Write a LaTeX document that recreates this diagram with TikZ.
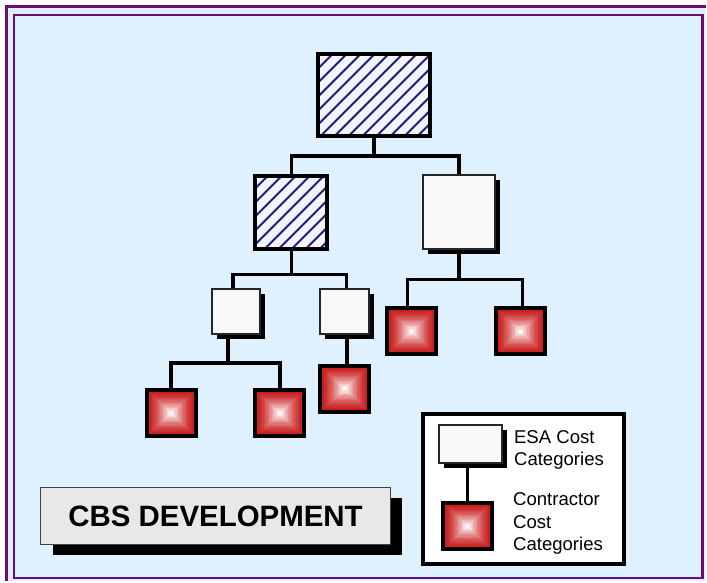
\documentclass[tikz,border=0pt]{standalone}
\usepackage{fontspec}
\setmainfont{Liberation Sans}
\usetikzlibrary{patterns.meta,calc,shadows}
\definecolor{panelblue}{RGB}{223,241,254}
\definecolor{framepurple}{RGB}{110,10,115}
\definecolor{hatchnavy}{RGB}{32,32,120}
\definecolor{hatchbg}{RGB}{244,244,255}
\definecolor{esawhite}{RGB}{248,248,248}
\definecolor{boxred}{RGB}{200,26,26}
\definecolor{bannergray}{RGB}{232,232,232}
\tikzset{
  conn/.style={line width=3.5pt, draw=black},
  esahatch/.style={draw=black, line width=4pt, inner sep=0pt,
    preaction={fill=hatchbg},
    pattern={Lines[angle=45,distance=10.5pt,line width=2.2pt]},
    pattern color=hatchnavy},
  esabox/.style={draw=black!85, line width=2pt, fill=esawhite, inner sep=0pt,
    drop shadow={shadow xshift=5pt, shadow yshift=-5pt, fill=black, opacity=1}},
  ctrbox/.style={draw=black, line width=4pt, inner sep=0pt,
    minimum width=49pt, minimum height=46pt,
    path picture={
      \foreach \k in {0,...,17}{
        \pgfmathsetmacro\h{\k/36}
        \pgfmathsetmacro\m{100*(1-(\k/17)^1.5)}
        \fill[boxred!\m!white]
          ($(path picture bounding box.south west)!\h!(path picture bounding box.north east)$)
          rectangle
          ($(path picture bounding box.north east)!\h!(path picture bounding box.south west)$);
      }
    }},
  legendtext/.style={anchor=west, inner sep=0pt, align=left,
    font=\fontsize{18.6}{22.5}\selectfont},
}
\begin{document}
\begin{tikzpicture}[x=1pt, y=-1pt]
  % page, panel and double frame
  \fill[white] (0,0) rectangle (707,582);
  \fill[panelblue] (7,7) rectangle (707,582);
  \draw[framepurple, line width=3pt] (7,582) -- (7,7) -- (707,7);
  \draw[framepurple, line width=2.5pt] (14,15) rectangle (704,579);
  \useasboundingbox (0,0) rectangle (707,582);

  % ESA cost categories (hatched = upper levels)
  \node[esahatch, minimum width=112pt, minimum height=82pt] (top) at (375,95) {};
  \node[esahatch, minimum width=72pt, minimum height=74pt] (lh) at (292,213) {};
  \node[esabox, minimum width=72pt, minimum height=75pt] (rw) at (460,212.5) {};
  \node[esabox, minimum width=49pt, minimum height=45pt] (w1) at (236.5,312.5) {};
  \node[esabox, minimum width=49pt, minimum height=45pt] (w2) at (345.5,312.5) {};

  % contractor cost categories
  \node[ctrbox] (r1) at (171.5,414) {};
  \node[ctrbox] (r2) at (280.5,414) {};
  \node[ctrbox] (r3) at (345.5,389.5) {};
  \node[ctrbox] (r4) at (412.5,332) {};
  \node[ctrbox] (r5) at (521.5,332) {};

  % tree connectors
  \draw[conn] (top.south) -- ++(0,19) -| (lh.north);
  \draw[conn] (top.south) -- ++(0,19) -| (rw.north);
  \draw[conn] (lh.south) -- ++(0,23) -| ([xshift=-3pt]w1.north);
  \draw[conn] (lh.south) -- ++(0,23) -| ([xshift=1.5pt]w2.north);
  \draw[conn] ([xshift=-8pt]w1.south) -- ++(0,28) -| (r1.north);
  \draw[conn] ([xshift=-8pt]w1.south) -- ++(0,28) -| (r2.north);
  \draw[conn] ([xshift=2pt]w2.south) -- ([xshift=2pt]r3.north);
  \draw[conn] (rw.south) -- ++(0,29) -| ([xshift=-4pt]r4.north);
  \draw[conn] (rw.south) -- ++(0,29) -| ([xshift=2pt]r5.north);

  % legend
  \node[draw=black, line width=3.5pt, fill=white, inner sep=0pt,
        minimum width=201.5pt, minimum height=150.5pt] (legend) at (524.5,490) {};
  \node[esabox, minimum width=63pt, minimum height=38pt] (lw) at (471.5,445) {};
  \node[ctrbox] (lr) at (468.5,527.5) {};
  \draw[conn] (lr.north |- lw.south) -- (lr.north);
  \node[legendtext] (lwt) at (515,451) {ESA Cost\\Categories};
  \node[legendtext] (lrt) at (514,525) {Contractor\\Cost\\Categories};

  % title banner
  \node[draw=black!75, line width=1pt, fill=bannergray, inner sep=0pt,
        minimum width=350pt, minimum height=57pt,
        drop shadow={shadow xshift=12pt, shadow yshift=-10pt, fill=black, opacity=1},
        font=\bfseries\fontsize{29.5}{30}\selectfont] (banner) at (216,517.5) {CBS DEVELOPMENT};
\end{tikzpicture}
\end{document}
